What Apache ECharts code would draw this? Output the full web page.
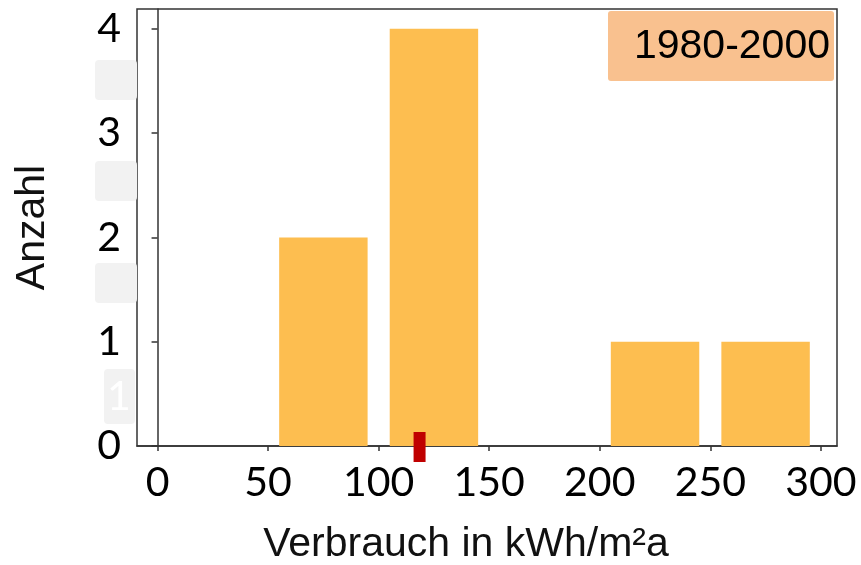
<!DOCTYPE html>
<html>
<head>
<meta charset="utf-8">
<script src="https://cdn.jsdelivr.net/npm/echarts@6/dist/echarts.min.js"></script>
<style>
  html, body { margin: 0; padding: 0; background: #fff; }
  #main { width: 861px; height: 565px; }
</style>
</head>
<body>
<div id="main"></div>
<script>
// Histogramm: Klassen (Beginn/Ende) und Anzahl
var binStart = [55, 105, 205, 255]
var binEnd = [95, 145, 245, 295]
var counts = [2, 4, 1, 1]
// roter Marker auf der x-Achse
var markerValue = [118.5]
var xTicks = [0, 50, 100, 150, 200, 250, 300]
var yTicks = [0, 1, 2, 3, 4]
var periodLabel = '1980-2000'

var barData = binStart.map(function (s, i) {
  return [s, binEnd[i], counts[i]]
})

var labelFont = 'Lato'
var textFont = 'Liberation Sans'

var myChart = echarts.init(document.getElementById('main'))
var option = {
  animation: false,
  grid: {
    left: 137,
    right: 24,
    top: 9,
    bottom: 119,
    outerBoundsMode: 'none',
    show: true,
    borderColor: '#333',
    borderWidth: 1.5,
  },
  xAxis: {
    type: 'value',
    min: -9.3,
    max: 307.3,
    name: 'Verbrauch in kWh/m²a',
    nameLocation: 'middle',
    nameGap: 78,
    nameTextStyle: { fontFamily: textFont, fontSize: 41, color: '#111', padding: [0, 42, 0, 0] },
    splitLine: { show: false },
    axisLine: { show: true, lineStyle: { color: '#333', width: 1.5 } },
    axisTick: {
      show: true,
      length: 5,
      customValues: xTicks,
      lineStyle: { color: '#333', width: 1.5 },
    },
    axisLabel: {
      customValues: xTicks,
      margin: 16,
      fontFamily: labelFont,
      fontSize: 41,
      color: '#000',
    },
  },
  yAxis: {
    type: 'value',
    min: 0,
    max: 4.19,
    name: 'Anzahl',
    nameLocation: 'middle',
    nameRotate: 90,
    nameGap: 84,
    nameTextStyle: { fontFamily: textFont, fontSize: 41, color: '#111' },
    splitLine: { show: false },
    axisLine: { show: true, lineStyle: { color: '#333', width: 1.5 } },
    axisTick: {
      show: true,
      length: 6,
      customValues: yTicks,
      lineStyle: { color: '#333', width: 1.5 },
    },
    axisLabel: {
      customValues: yTicks,
      margin: 16,
      fontFamily: labelFont,
      fontSize: 41,
      color: '#000',
    },
  },
  // graue Reste links neben der y-Achse
  graphic: [
    { type: 'rect', left: 95, top: 60, shape: { width: 42, height: 40, r: 4 }, style: { fill: '#f2f2f2' } },
    { type: 'rect', left: 95, top: 161, shape: { width: 42, height: 40, r: 4 }, style: { fill: '#f2f2f2' } },
    { type: 'rect', left: 95, top: 263, shape: { width: 42, height: 40, r: 4 }, style: { fill: '#f2f2f2' } },
    {
      type: 'group',
      left: 104,
      top: 369,
      children: [
        { type: 'rect', shape: { width: 31, height: 55, r: 4 }, style: { fill: '#f2f2f2' } },
        { type: 'text', x: 15, y: 28, style: { text: '1', font: '41px Lato', fill: '#fff', align: 'center', verticalAlign: 'middle' } },
      ],
    },
    // Zeitraum-Kasten
    {
      type: 'group',
      left: 608,
      top: 11,
      z: 10,
      children: [
        { type: 'rect', shape: { width: 226, height: 70, r: 3 }, style: { fill: '#f9c18f' } },
        { type: 'text', x: 222, y: 36, style: { text: periodLabel, font: '41px "Liberation Sans"', fill: '#000', align: 'right', verticalAlign: 'middle' } },
      ],
    },
  ],
  series: [
    {
      type: 'custom',
      data: barData,
      encode: { x: [0, 1], y: 2 },
      renderItem: function (params, api) {
        var p0 = api.coord([api.value(0), api.value(2)])
        var p1 = api.coord([api.value(1), 0])
        return {
          type: 'rect',
          shape: { x: p0[0], y: p0[1], width: p1[0] - p0[0], height: p1[1] - p0[1] },
          style: { fill: '#fdbe50' },
        }
      },
    },
    {
      type: 'custom',
      data: markerValue.map(function (v) { return [v, 0] }),
      encode: { x: 0, y: 1 },
      clip: false,
      z: 5,
      renderItem: function (params, api) {
        var p = api.coord([api.value(0), 0])
        return {
          type: 'rect',
          shape: { x: p[0] - 6, y: p[1] - 14, width: 12, height: 30 },
          style: { fill: '#c00000' },
        }
      },
    },
  ],
}
myChart.setOption(option)
</script>
</body>
</html>
